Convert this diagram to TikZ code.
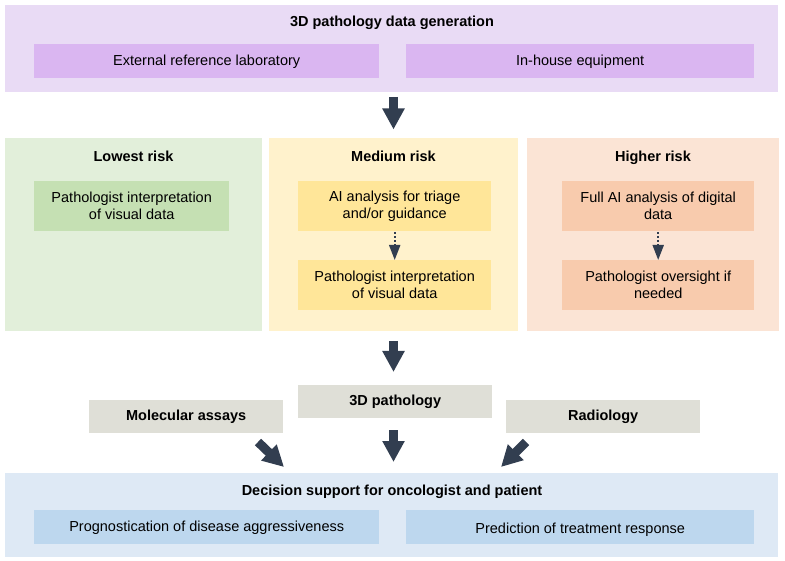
\documentclass[tikz,border=0pt]{standalone}
\usepackage{fontspec}
\setmainfont{Liberation Sans}
\usetikzlibrary{arrows.meta,calc}
\definecolor{lilacbg}{HTML}{E9DBF5}
\definecolor{lilac}{HTML}{DAB6F1}
\definecolor{greenbg}{HTML}{E2EFDA}
\definecolor{greenin}{HTML}{C5E0B3}
\definecolor{yellowbg}{HTML}{FFF2CC}
\definecolor{yellowin}{HTML}{FFE699}
\definecolor{peachbg}{HTML}{FBE4D5}
\definecolor{peachin}{HTML}{F8CBAD}
\definecolor{greybox}{HTML}{DFDFD7}
\definecolor{bluebg}{HTML}{DEE9F5}
\definecolor{bluein}{HTML}{BDD7EE}
\definecolor{arrowcol}{HTML}{323E50}
\begin{document}
\begin{tikzpicture}[x=1pt,y=-1pt,
  every node/.style={font=\fontsize{14.5}{17}\selectfont},
  panel/.style={rectangle,inner sep=0pt,anchor=north west,draw=none},
  txt/.style={inner sep=0pt,align=center,text=black},
  txtone/.style={inner sep=0pt,text height=11pt,text depth=3pt,text=black},
  ttl/.style={inner sep=0pt,text height=11pt,text depth=3pt,font=\fontsize{14.5}{17}\selectfont\bfseries},
  bigarrow/.style={draw=arrowcol,line width=9pt,-{Triangle[width=21pt,length=21pt]},fill=arrowcol},
  dotarrow/.style={draw=arrowcol,line width=2pt,dash pattern=on 2pt off 2pt,-{Triangle[width=11pt,length=15pt]}}]
\useasboundingbox (0,0) rectangle (785,561);
% top
\node[panel,fill=lilacbg,minimum width=773pt,minimum height=87pt] (gen) at (5,5) {};
\node[ttl] (gent) at (392,23) {3D pathology data generation};
\node[panel,fill=lilac,minimum width=345pt,minimum height=34pt] (ext) at (34,44) {};
\node[txtone] at ([yshift=-0.5pt]ext.center) {External reference laboratory};
\node[panel,fill=lilac,minimum width=348pt,minimum height=34pt] (inh) at (406,44) {};
\node[txtone] at ([yshift=-0.5pt]inh.center) {In-house equipment};
% risk panels
\node[panel,fill=greenbg,minimum width=257pt,minimum height=193pt] (low) at (5,138) {};
\node[panel,fill=yellowbg,minimum width=249pt,minimum height=193pt] (med) at (269,138) {};
\node[panel,fill=peachbg,minimum width=252pt,minimum height=193pt] (high) at (527,138) {};
\node[ttl] (lowt) at (133.5,158) {Lowest risk};
\node[ttl] (medt) at (393.5,158) {Medium risk};
\node[ttl] (hight) at (653,158) {Higher risk};
\node[panel,fill=greenin,minimum width=195pt,minimum height=50pt] (l1) at (34,181) {};
\node[txt] at (l1.center) {Pathologist interpretation\\of visual data};
\node[panel,fill=yellowin,minimum width=193pt,minimum height=50pt] (m1) at (298,181) {};
\node[txt] at (m1.center) {AI analysis for triage\\and/or guidance};
\node[panel,fill=yellowin,minimum width=193pt,minimum height=50pt] (m2) at (298,260) {};
\node[txt] at (m2.center) {Pathologist interpretation\\of visual data};
\node[panel,fill=peachin,minimum width=192pt,minimum height=50pt] (h1) at (562,181) {};
\node[txt] at (h1.center) {Full AI analysis of digital\\data};
\node[panel,fill=peachin,minimum width=192pt,minimum height=50pt] (h2) at (562,260) {};
\node[txt] at (h2.center) {Pathologist oversight if\\needed};
\draw[dotarrow] ([yshift=-1pt]m1.south) -- (m2.north);
\draw[dotarrow] ([yshift=-1pt]h1.south) -- (h2.north);
% grey boxes
\node[panel,fill=greybox,minimum width=194pt,minimum height=33pt] (p3d) at (298,385) {};
\node[ttl] at (p3d.center) {3D pathology};
\node[panel,fill=greybox,minimum width=194pt,minimum height=33pt] (mol) at (89,400) {};
\node[ttl] at (mol.center) {Molecular assays};
\node[panel,fill=greybox,minimum width=194pt,minimum height=33pt] (rad) at (506,400) {};
\node[ttl] at (rad.center) {Radiology};
% bottom
\node[panel,fill=bluebg,minimum width=773pt,minimum height=84pt] (dec) at (5,473) {};
\node[ttl] (dect) at (392,491) {Decision support for oncologist and patient};
\node[panel,fill=bluein,minimum width=345pt,minimum height=34pt] (prog) at (34,510) {};
\node[txtone] at (prog.center) {Prognostication of disease aggressiveness};
\node[panel,fill=bluein,minimum width=348pt,minimum height=34pt] (pred) at (406,510) {};
\node[txtone] at ([yshift=-2pt]pred.center) {Prediction of treatment response};
% big arrows
\coordinate (a1s) at (393.5,97);
\coordinate (a1e) at (393.5,129.5);
\draw[bigarrow] (a1s) -- (a1e);
\coordinate (a2s) at (393.5,341);
\coordinate (a2e) at (393.5,372);
\draw[bigarrow] (a2s) -- (a2e);
\coordinate (a3s) at (393.5,430);
\coordinate (a3e) at (393.5,462);
\draw[bigarrow] (a3s) -- (a3e);
\coordinate (a4s) at (258,442);
\coordinate (a4e) at (284,467);
\draw[bigarrow] (a4s) -- (a4e);
\coordinate (a5s) at (526,442);
\coordinate (a5e) at (501,467);
\draw[bigarrow] (a5s) -- (a5e);
\end{tikzpicture}
\end{document}
